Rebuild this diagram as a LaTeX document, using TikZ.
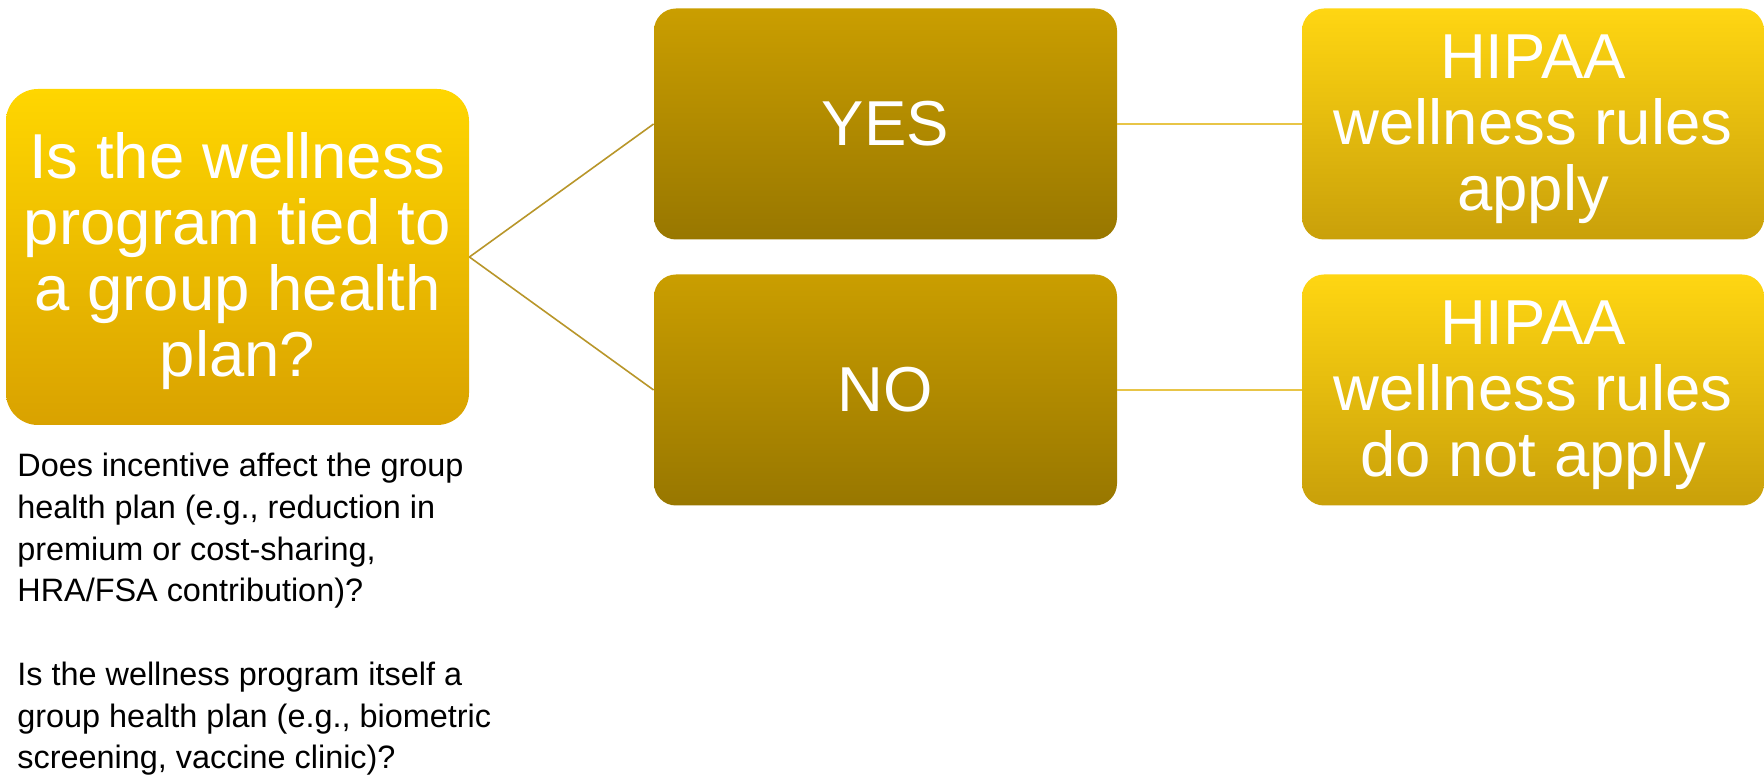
\documentclass[tikz,border=0pt]{standalone}
\usepackage{fontspec}
\setmainfont{Liberation Sans}
\newcommand{\topstrut}{\rule{0pt}{27pt}}
\begin{document}
\begin{tikzpicture}[x=0.5pt,y=-0.5pt,
  bigtext/.style={font=\fontsize{31.75pt}{33pt}\selectfont, text=white, align=center, inner sep=0pt},
  qbox/.style={bigtext, rounded corners=16pt, top color=qtop, bottom color=qbot, minimum width=231.5pt, minimum height=168pt},
  abox/.style={bigtext, rounded corners=11pt, top color=atop, bottom color=abot, minimum width=231.5pt, minimum height=115.5pt},
  rbox/.style={bigtext, rounded corners=11pt, top color=rtop, bottom color=rbot, minimum width=231pt, minimum height=115.5pt},
  lconn/.style={draw=lcol, line width=0.8pt},
  rconn/.style={draw=rcol, line width=0.8pt}
]
\definecolor{qtop}{HTML}{FFD600}
\definecolor{qbot}{HTML}{D9A200}
\definecolor{atop}{HTML}{CA9E00}
\definecolor{abot}{HTML}{987700}
\definecolor{rtop}{HTML}{FFD612}
\definecolor{rbot}{HTML}{C9A00A}
\definecolor{lcol}{HTML}{B8962A}
\definecolor{rcol}{HTML}{E8C547}
\useasboundingbox (0,0) rectangle (1764,779);
\node[qbox] (q) at (237.5,257) {\topstrut Is the wellness\\program tied to\\a group health\\plan?};
\node[abox] (yes) at (885.5,124) {YES};
\node[abox] (no) at (885.5,390) {NO};
\node[rbox] (r1) at (1533,124) {\topstrut HIPAA\\wellness rules\\apply};
\node[rbox] (r2) at (1533,390) {\topstrut HIPAA\\wellness rules\\do not apply};
\draw[lconn] (q.east) -- (yes.west);
\draw[lconn] (q.east) -- (no.west);
\draw[rconn] (yes.east) -- (r1.west);
\draw[rconn] (no.east) -- (r2.west);
\node[anchor=north west, inner sep=0pt, align=left, font=\fontsize{16.2pt}{20.85pt}\selectfont] (note) at (17,453)
 {Does incentive affect the group\\health plan (e.g., reduction in\\premium or cost-sharing,\\HRA/FSA contribution)?\\[20.85pt]Is the wellness program itself a\\group health plan (e.g., biometric\\screening, vaccine clinic)?};
\end{tikzpicture}
\end{document}
